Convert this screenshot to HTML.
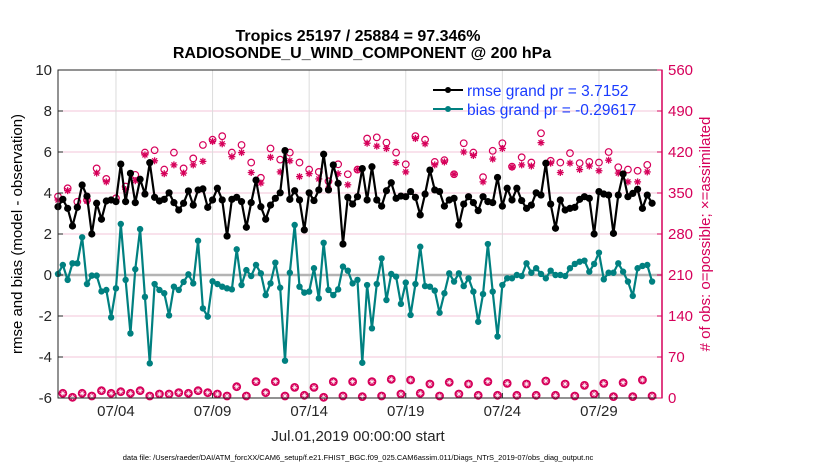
<!DOCTYPE html>
<html><head><meta charset="utf-8"><style>
body{margin:0;background:#fff;}
svg{display:block;font-family:"Liberation Sans",Arial,sans-serif;}
</style></head><body>
<svg id="chart" width="830" height="470" viewBox="0 0 830 470" xmlns="http://www.w3.org/2000/svg">
<rect width="830" height="470" fill="#fff"/>
<g id="grid"></g>
<g id="series"></g>
<g id="axes"></g>
<text x="358" y="41" text-anchor="middle" font-size="16" font-weight="bold">Tropics 25197 / 25884 = 97.346%</text>
<text x="362" y="58" text-anchor="middle" font-size="16" font-weight="bold">RADIOSONDE_U_WIND_COMPONENT @ 200 hPa</text>
<text transform="translate(22,234) rotate(-90)" text-anchor="middle" font-size="15">rmse and bias (model - observation)</text>
<text transform="translate(710,234) rotate(-90)" text-anchor="middle" font-size="15" fill="#d6005a"># of obs: o=possible; ×=assimilated</text>
<text x="358" y="441" text-anchor="middle" font-size="15" fill="#262626">Jul.01,2019 00:00:00 start</text>
<text x="358" y="460" text-anchor="middle" font-size="7.5" fill="#000">data file: /Users/raeder/DAI/ATM_forcXX/CAM6_setup/f.e21.FHIST_BGC.f09_025.CAM6assim.011/Diags_NTrS_2019-07/obs_diag_output.nc</text>
<g>
<line x1="433" y1="90" x2="463" y2="90" stroke="#000" stroke-width="2"/><circle cx="448" cy="90" r="3" fill="#000"/>
<text x="467" y="96" font-size="15.5" fill="#1a3cff">rmse grand pr = 3.7152</text>
<line x1="433" y1="109" x2="463" y2="109" stroke="#008080" stroke-width="2"/><circle cx="448" cy="109" r="3" fill="#008080"/>
<text x="467" y="115" font-size="15.5" fill="#1a3cff">bias grand pr = -0.29617</text>
</g>
</svg>
<script>
const rmse=[3.33,3.69,3.25,2.39,3.30,4.39,3.85,2.0,3.5,2.72,3.61,3.66,3.58,5.41,3.58,4.96,3.53,4.67,3.95,5.48,3.79,3.61,3.69,4.01,3.53,3.17,3.5,4.1,3.41,4.15,4.2,3.30,
3.66,4.23,3.66,1.90,3.69,3.79,3.58,2.33,3.53,4.63,3.33,2.72,3.41,3.74,4.01,6.07,3.69,4.11,3.66,2.20,4.01,3.63,4.15,5.89,4.15,5.37,4.47,1.51,3.79,3.46,3.82,
5.19,3.66,5.28,3.66,3.36,4.11,4.5,3.74,3.85,3.82,4.07,3.79,2.93,3.95,5.12,4.15,4.07,3.36,3.66,3.74,2.44,3.46,3.82,3.53,3.14,3.82,3.58,3.53,4.76,3.36,4.23,
3.66,4.23,3.63,3.25,3.41,4.01,3.90,5.45,3.46,2.28,3.66,3.17,3.25,3.30,3.69,3.82,3.74,2.0,4.07,3.95,3.90,2.03,3.90,4.93,3.82,3.98,4.18,3.25,3.90,3.5];
const bias=[0.05,0.49,-0.24,0.57,0.57,1.84,-0.44,-0.03,-0.03,-0.80,-0.73,-2.07,-0.65,2.49,-0.24,-2.85,0.28,2.24,-1.07,-4.31,-0.44,-0.73,-0.89,-1.97,-0.57,-0.73,-0.34,0.03,-0.41,1.67,-1.63,-2.03,
-0.31,-0.44,-0.57,-0.65,-0.70,1.25,-0.49,0.24,-0.05,0.49,0.08,-0.98,-0.41,0.60,-0.62,-4.18,0.11,2.44,-0.57,-0.86,-0.81,0.33,-1.14,1.57,-0.73,-0.98,-0.70,0.41,0.21,-0.41,-0.24,
-4.28,-0.49,-2.60,-0.44,0.81,-1.22,0.05,-0.08,-1.41,-0.37,-1.95,-0.44,1.38,-0.54,-0.57,-0.76,-1.84,-0.89,0.08,-0.32,0.08,-0.54,-0.16,-0.81,-2.28,-0.93,1.51,-0.81,-3.0,-0.49,-0.16,
-0.16,0,-0.05,0.57,0.11,0.33,0.05,-0.16,0.21,0,0,-0.05,0.33,0.54,0.65,0.70,0.16,0.54,1.09,-0.21,0.11,0.11,0.57,0.16,-0.32,-1.02,0.33,0.44,0.49,-0.32];
// obs counts at 00Z/12Z (even steps)
const possibleMain=[344,358,335,338,392,374,341,361,381,419,423,390,419,392,409,432,
441,447,419,432,402,376,426,407,419,402,390,386,370,399,382,390,
443,445,436,419,399,447,441,403,406,382,435,419,377,422,435,
395,411,402,452,405,402,418,401,403,402,420,394,390,388,398];
const assimMain=[338,354,327,336,384,369,336,356,371,415,405,383,398,384,398,404,
438,434,412,419,385,367,411,386,405,378,383,374,358,383,364,390,
435,430,426,402,386,443,434,398,403,382,420,414,369,408,426,
394,398,396,436,401,385,401,390,396,388,406,384,369,369,386];
// obs counts at 06Z/18Z (odd steps)
const obsOff=[8,1.2,8,3.4,12.5,8,10.8,8,12.5,3.4,6.8,6.8,9.1,8,12.5,9.1,6.8,3.4,19.3,3.4,27.9,9.1,27.9,3.4,18.2,4.6,18.2,1.2,27.9,3.4,27.9,
2.3,27.9,3.4,31.9,6.8,30.7,8,23.9,3.4,26.8,6.8,23.9,4.6,27.9,4.6,25,4.6,23.9,4.6,29,4.6,23.9,3.4,21.6,6.8,25,2.3,26.2,2.3,30.7,3.4];
const leftTicks=[-6,-4,-2,0,2,4,6,8,10];
const rightTicks=[0,70,140,210,280,350,420,490,560];
const xTickDays=[3,8,13,18,23,28];
const xTickLabels=["07/04","07/09","07/14","07/19","07/24","07/29"];

const NS="http://www.w3.org/2000/svg";
const L=58,R=662,T=70,B=398;
const xs=d=>L+d*19.32;
const yL=v=>B-(v+6)/16*(B-T);
const yR=v=>B-v/560*(B-T);
function mk(tag,attrs,parent){const e=document.createElementNS(NS,tag);for(const k in attrs)e.setAttribute(k,attrs[k]);parent.appendChild(e);return e;}
const grid=document.getElementById('grid'),ser=document.getElementById('series'),ax=document.getElementById('axes');
const PINK="#d6005a";
rightTicks.forEach(v=>{const l=mk('line',{x1:L,x2:R,y1:yR(v),y2:yR(v),stroke:'#f3c6d8','stroke-width':1},grid);

});
xTickDays.forEach(d=>{const l=mk('line',{x1:xs(d),x2:xs(d),y1:T,y2:B,stroke:'#dcdcdc','stroke-width':1},grid);

});
const z=mk('line',{x1:L,x2:R,y1:yL(0),y2:yL(0),stroke:'#b4b4b4','stroke-width':2.5},grid);


function ast(cx,cy,s,parent,col,w){const g=mk('g',{stroke:col,'stroke-width':w},parent);
for(let a=0;a<4;a++){const an=a*Math.PI/4;mk('line',{x1:cx-s*Math.cos(an),y1:cy-s*Math.sin(an),x2:cx+s*Math.cos(an),y2:cy+s*Math.sin(an)},g);}return g;}
possibleMain.forEach((v,k)=>{const c=mk('circle',{cx:xs(k*0.5),cy:yR(v),r:3.3,fill:'none',stroke:PINK,'stroke-width':1.2},ser);

});
assimMain.forEach((v,k)=>{const g=ast(xs(k*0.5),yR(v),3.5,ser,PINK,1.3);

});
obsOff.forEach((v,k)=>{const d=(2*k+1)*0.25;
const c=mk('circle',{cx:xs(d),cy:yR(v),r:4,fill:PINK,stroke:PINK,'stroke-width':0.8},ser);


const g=ast(xs(d),yR(v),2.6,ser,'#fff',0.7);

});
function lineSeries(arr,color,name,star){
const p=mk('polyline',{points:arr.map((v,i)=>xs(i*0.25)+','+yL(v)).join(' '),fill:'none',stroke:color,'stroke-width':2.2,'stroke-linejoin':'round'},ser);


arr.forEach((v,i)=>{const c=mk('circle',{cx:xs(i*0.25),cy:yL(v),r:star?3.6:3.2,fill:color},ser);

});}
lineSeries(bias,'#008080','bias',false);
lineSeries(rmse,'#000','rmse',true);
const box=mk('rect',{x:L,y:T,width:R-L,height:B-T,fill:'none',stroke:'#262626','stroke-width':1},ax);


const rl=mk('line',{x1:R,x2:R,y1:T,y2:B,stroke:PINK,'stroke-width':1.5},ax);


leftTicks.forEach(v=>{mk('line',{x1:L,x2:L+5,y1:yL(v),y2:yL(v),stroke:'#262626'},ax);
const t=mk('text',{x:L-6,y:yL(v)+5,'text-anchor':'end','font-size':15,fill:'#262626'},ax);t.textContent=v;

});
rightTicks.forEach(v=>{mk('line',{x1:R-5,x2:R,y1:yR(v),y2:yR(v),stroke:PINK},ax);
const t=mk('text',{x:R+6,y:yR(v)+5,'font-size':15,fill:PINK},ax);t.textContent=v;

});
xTickDays.forEach((d,k)=>{mk('line',{x1:xs(d),x2:xs(d),y1:B,y2:B-5,stroke:'#262626'},ax);
const t=mk('text',{x:xs(d),y:416,'text-anchor':'middle','font-size':15,fill:'#262626'},ax);t.textContent=xTickLabels[k];

});
</script>
</body></html>
